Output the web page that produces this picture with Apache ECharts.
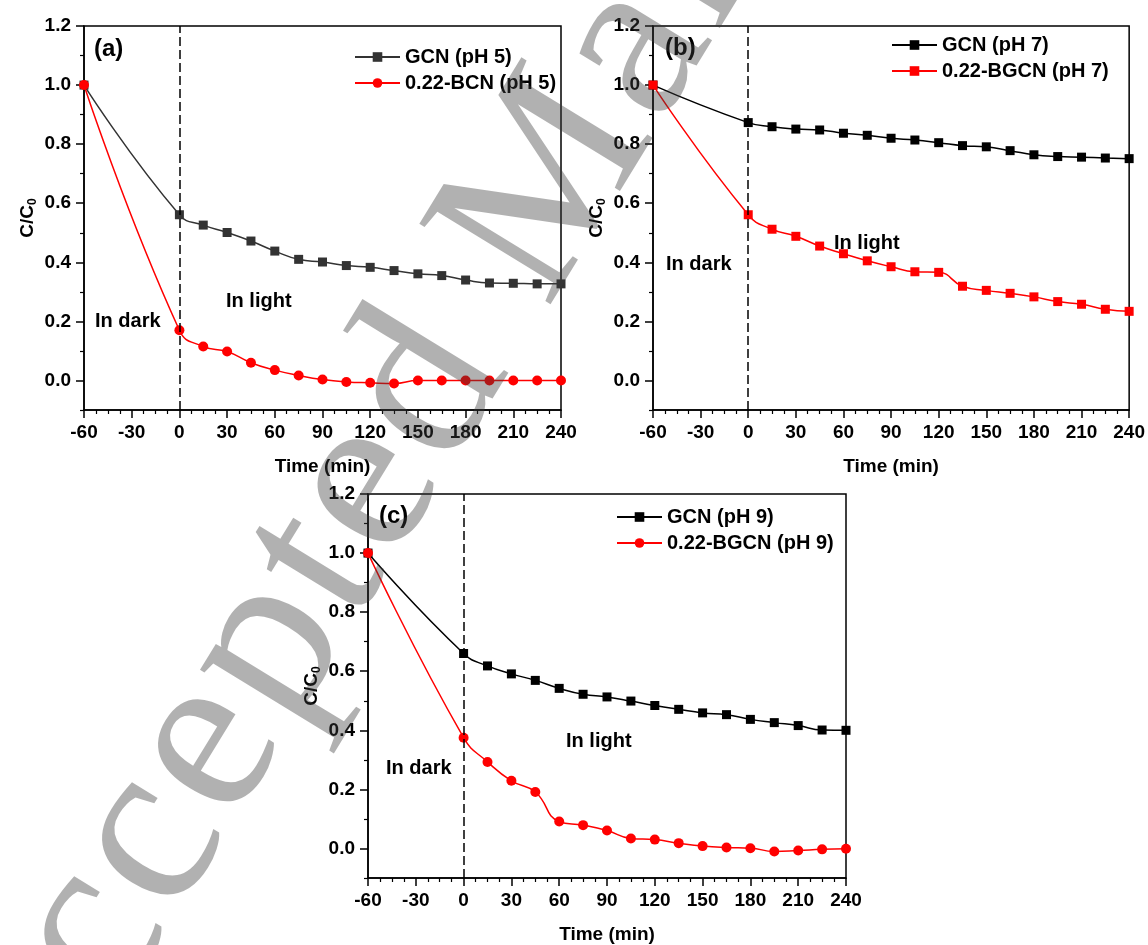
<!DOCTYPE html>
<html>
<head>
<meta charset="utf-8">
<script src="https://cdn.jsdelivr.net/npm/echarts@6/dist/echarts.min.js"></script>
<style>
html, body { margin: 0; padding: 0; background: #fff; }
#chart { width: 1148px; height: 945px; }
</style>
</head>
<body>
<div id="chart"></div>
<script>
// sampling times (min), light switched on at t = 0
var times = [-60, 0, 15, 30, 45, 60, 75, 90, 105, 120, 135, 150, 165, 180, 195, 210, 225, 240];
var lightOnTime = 0;

// (a) pH 5
var gcnPh5 = [1.0, 0.561, 0.526, 0.501, 0.472, 0.438, 0.410, 0.401, 0.389, 0.383, 0.372, 0.361, 0.355, 0.340, 0.330, 0.329, 0.327, 0.327];
var bcnPh5 = [1.0, 0.170, 0.115, 0.098, 0.060, 0.035, 0.017, 0.003, -0.005, -0.008, -0.010, 0.0, 0.0, 0.0, 0.0, 0.0, 0.0, 0.0];
// (b) pH 7
var gcnPh7 = [1.0, 0.873, 0.859, 0.851, 0.848, 0.837, 0.830, 0.820, 0.814, 0.805, 0.795, 0.791, 0.778, 0.764, 0.758, 0.756, 0.753, 0.751];
var bgcnPh7 = [1.0, 0.561, 0.512, 0.488, 0.455, 0.429, 0.405, 0.385, 0.368, 0.366, 0.319, 0.305, 0.295, 0.283, 0.267, 0.258, 0.241, 0.234];
// (c) pH 9
var gcnPh9 = [1.0, 0.660, 0.618, 0.591, 0.569, 0.542, 0.522, 0.513, 0.499, 0.484, 0.471, 0.459, 0.453, 0.437, 0.426, 0.416, 0.401, 0.400];
var bgcnPh9 = [1.0, 0.375, 0.293, 0.229, 0.191, 0.091, 0.079, 0.061, 0.034, 0.030, 0.018, 0.008, 0.003, 0.001, -0.010, -0.007, -0.003, -0.001];

// tick values
var yMajorTicks = [0, 0.2, 0.4, 0.6, 0.8, 1.0, 1.2];
var yMinorTicks = [-0.1, 0.1, 0.3, 0.5, 0.7, 0.9, 1.1];

var watermarkText = 'Accepted Manuscript';

var FONT = '"Liberation Sans", Arial, sans-serif';
var chart = echarts.init(document.getElementById('chart'));

function pairs(values) {
    var out = [];
    for (var i = 0; i < times.length; i++) {
        out.push([times[i], values[i]]);
    }
    return out;
}

function makeX(idx) {
    return {
        type: 'value', gridIndex: idx, min: -60, max: 240, interval: 30,
        name: 'Time (min)', nameLocation: 'middle', nameGap: 47,
        nameTextStyle: { fontFamily: FONT, fontWeight: 'bold', fontSize: 19, color: '#000' },
        axisLine: { onZero: false, lineStyle: { color: '#000', width: 1.5 } },
        axisTick: { length: 8, lineStyle: { color: '#000', width: 1.5 } },
        minorTick: { show: true, splitNumber: 4, length: 4, lineStyle: { color: '#000', width: 1.2 } },
        axisLabel: { margin: 13, fontFamily: FONT, fontWeight: 'bold', fontSize: 19, color: '#000' },
        splitLine: { show: false }
    };
}

function makeY(idx) {
    return {
        type: 'value', gridIndex: idx, min: -0.1, max: 1.2, position: 'left',
        name: '{m|C/C}{s|0}', nameLocation: 'middle', nameGap: 45, nameRotate: 90,
        nameTextStyle: {
            rich: {
                m: { fontFamily: FONT, fontWeight: 'bold', fontSize: 19, color: '#000', lineHeight: 22, verticalAlign: 'middle' },
                s: { fontFamily: FONT, fontWeight: 'bold', fontSize: 12, color: '#000', lineHeight: 12, verticalAlign: 'bottom' }
            }
        },
        axisLine: { onZero: false, lineStyle: { color: '#000', width: 1.5 } },
        axisTick: { length: 8, customValues: yMajorTicks, lineStyle: { color: '#000', width: 1.5 } },
        axisLabel: {
            customValues: yMajorTicks, margin: 13, fontFamily: FONT, fontWeight: 'bold', fontSize: 19, color: '#000',
            formatter: function (v) { return v.toFixed(1); }
        },
        splitLine: { show: false }
    };
}

// second, label-less y axis that only carries the short minor ticks
function makeYMinor(idx) {
    return {
        type: 'value', gridIndex: idx, min: -0.1, max: 1.2, position: 'left',
        axisLine: { show: false, onZero: false },
        axisTick: { length: 4, customValues: yMinorTicks, lineStyle: { color: '#000', width: 1.2 } },
        axisLabel: { show: false },
        splitLine: { show: false }
    };
}

function lineSeries(name, values, color, symbol, size, idx, withDash) {
    var s = {
        name: name, type: 'line', xAxisIndex: idx, yAxisIndex: idx * 2,
        data: pairs(values), smooth: 0.5, symbol: symbol, symbolSize: size,
        lineStyle: { color: color, width: 1.5 },
        itemStyle: { color: color },
        z: color === '#ff0000' ? 3 : 2
    };
    if (withDash) {
        s.markLine = {
            silent: true, symbol: ['none', 'none'], label: { show: false },
            lineStyle: { color: '#000', type: [9, 4], width: 1.5 },
            data: [{ xAxis: lightOnTime }]
        };
    }
    return s;
}

function makeLegend(names, left, top) {
    return {
        data: names, orient: 'vertical', left: left, top: top, padding: 0,
        itemWidth: 45, itemHeight: 12, itemGap: 6,
        textStyle: { fontFamily: FONT, fontWeight: 'bold', fontSize: 20, color: '#000', lineHeight: 20 }
    };
}

function label(text, x, y, size) {
    return {
        type: 'text', x: x, y: y, z: 10, silent: true,
        style: { text: text, font: 'bold ' + size + 'px ' + FONT, fill: '#000', textVerticalAlign: 'middle' }
    };
}

// diagonal journal watermark, letters laid out one by one so the spacing can be widened a bit
function watermark() {
    var size = 235, track = 6;
    var font = size + 'px "Liberation Serif", "Times New Roman", serif';
    var ctx = document.createElement('canvas').getContext('2d');
    ctx.font = font;
    var children = [];
    var pos = 0;
    for (var i = 0; i < watermarkText.length; i++) {
        var ch = watermarkText.charAt(i);
        children.push({
            type: 'text', x: pos, y: -0.34 * size, z: 100, silent: true,
            style: { text: ch, font: font, fill: 'rgba(60,60,60,0.4)', textVerticalAlign: 'middle' }
        });
        pos += ctx.measureText(ch).width + track;
    }
    return { type: 'group', x: 40, y: 1172, rotation: 58.5 * Math.PI / 180, z: 100, silent: true, children: children };
}

var option = {
    animation: false,
    backgroundColor: '#fff',
    grid: [
        { left: 84, top: 26, width: 477, height: 384, show: true, borderColor: '#000', borderWidth: 1.5 },
        { left: 653, top: 26, width: 478, height: 384, show: true, borderColor: '#000', borderWidth: 1.5 },
        { left: 368, top: 494, width: 478, height: 384, show: true, borderColor: '#000', borderWidth: 1.5 }
    ],
    xAxis: [makeX(0), makeX(1), makeX(2)],
    yAxis: [makeY(0), makeYMinor(0), makeY(1), makeYMinor(1), makeY(2), makeYMinor(2)],
    legend: [
        makeLegend(['GCN (pH 5)', '0.22-BCN (pH 5)'], 354, 47),
        makeLegend(['GCN (pH 7)', '0.22-BGCN (pH 7)'], 891, 35),
        makeLegend(['GCN (pH 9)', '0.22-BGCN (pH 9)'], 616, 507)
    ],
    series: [
        lineSeries('GCN (pH 5)', gcnPh5, '#333333', 'rect', 9, 0, true),
        lineSeries('0.22-BCN (pH 5)', bcnPh5, '#ff0000', 'circle', 10, 0, false),
        lineSeries('GCN (pH 7)', gcnPh7, '#000000', 'rect', 9, 1, true),
        lineSeries('0.22-BGCN (pH 7)', bgcnPh7, '#ff0000', 'rect', 9, 1, false),
        lineSeries('GCN (pH 9)', gcnPh9, '#000000', 'rect', 9, 2, true),
        lineSeries('0.22-BGCN (pH 9)', bgcnPh9, '#ff0000', 'circle', 10, 2, false)
    ],
    graphic: [
        label('(a)', 94, 49, 24),
        label('In dark', 95, 321, 20),
        label('In light', 226, 301, 20),
        label('(b)', 665, 48, 24),
        label('In dark', 666, 264, 20),
        label('In light', 834, 243, 20),
        label('(c)', 379, 516, 24),
        label('In dark', 386, 768, 20),
        label('In light', 566, 741, 20),
        watermark()
    ]
};

chart.setOption(option);
</script>
</body>
</html>
